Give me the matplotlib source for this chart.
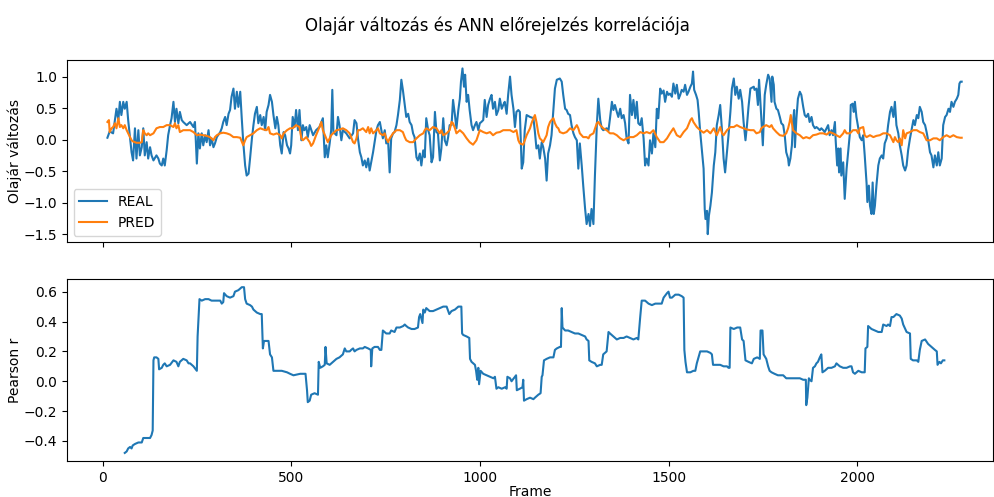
import numpy as np
import matplotlib
matplotlib.use("Agg")
import matplotlib.pyplot as plt
from matplotlib.ticker import MultipleLocator

# (frame, value) samples of the oil price change (REAL) and the ANN prediction (PRED)
real_pts = [
    (13, 0.03), (19, 0.13), (28, 0.10), (37, 0.49), (42, 0.31), (46, 0.60), (50, 0.39), (55, 0.60),
    (59, 0.49), (64, 0.60), (68, 0.31), (73, 0.02), (77, -0.20), (81, -0.33), (86, 0.18), (90, -0.30),
    (95, 0.15), (99, -0.25), (104, -0.12), (108, 0.18), (112, -0.25), (117, -0.04), (121, -0.30),
    (126, -0.12), (130, -0.25), (135, -0.33), (143, -0.25), (148, -0.30), (152, -0.38), (157, -0.41),
    (161, -0.30), (165, -0.41), (170, -0.17), (174, 0.07), (179, 0.23), (183, 0.34), (188, 0.60),
    (192, 0.28), (196, 0.49), (201, 0.26), (205, 0.44), (210, 0.31), (214, 0.28), (223, 0.23),
    (232, 0.28), (241, 0.20), (245, 0.28), (250, -0.38), (254, 0.10), (258, -0.14), (263, 0.10),
    (267, -0.09), (272, 0.07), (276, -0.04), (281, 0.15), (285, -0.09), (289, 0.02), (294, -0.12),
    (298, -0.06), (303, 0.04), (312, 0.12), (316, 0.18), (320, 0.28), (325, 0.36), (329, 0.23),
    (334, 0.41), (338, 0.47), (342, 0.68), (347, 0.81), (351, 0.49), (356, 0.76), (360, 0.52),
    (365, 0.76), (369, 0.34), (373, -0.04), (378, -0.41), (382, -0.57), (387, -0.54), (391, -0.30),
    (396, 0.02), (400, 0.23), (404, 0.41), (409, 0.52), (413, 0.26), (418, 0.39), (422, 0.23),
    (427, 0.36), (431, 0.15), (435, 0.44), (440, 0.55), (444, 0.71), (449, 0.60), (453, 0.39),
    (458, 0.18), (462, 0.36), (466, 0.23), (471, -0.09), (475, -0.22), (480, 0.12), (484, 0.07),
    (489, -0.09), (493, -0.14), (497, -0.22),
    (500, -0.09), (504, 0.36), (509, 0.20), (513, 0.47), (518, 0.15), (522, 0.47), (527, -0.01),
    (531, 0.23), (535, 0.15), (540, 0.20), (544, 0.04), (549, 0.23), (558, 0.07), (566, 0.15),
    (575, 0.20), (580, 0.28), (584, 0.34), (589, -0.28), (593, -0.09), (597, -0.28), (602, -0.06),
    (606, 0.15), (609, 0.79), (612, 0.12), (620, 0.07), (624, 0.36), (628, 0.23), (633, -0.01),
    (637, 0.15), (646, 0.10), (655, 0.02), (664, 0.10), (668, 0.31), (673, 0.26), (677, 0.02),
    (682, -0.20), (686, -0.28), (690, -0.41), (695, -0.33), (699, -0.44), (704, -0.30), (708, -0.49),
    (712, -0.36), (717, -0.20), (721, -0.04), (726, 0.15), (730, 0.23), (735, 0.28), (739, 0.15),
    (743, 0.02), (748, 0.15), (752, -0.06), (757, -0.04), (761, -0.52), (765, 0.02), (770, 0.10),
    (774, 0.12), (779, 0.23), (783, 0.39), (788, 0.63), (792, 0.95), (796, 0.79), (801, 0.55),
    (805, 0.36), (810, 0.41), (814, 0.28), (819, 0.23), (823, 0.10), (827, 0.04), (832, -0.28),
    (836, -0.33), (841, -0.22), (845, -0.41), (850, -0.17), (854, -0.28), (858, 0.34), (863, 0.15),
    (867, 0.07), (872, -0.36), (876, -0.28), (881, 0.44), (885, 0.12), (889, 0.10), (894, -0.33),
    (898, -0.14), (903, 0.34), (907, -0.01), (912, -0.09), (916, 0.04), (920, 0.23), (925, 0.23),
    (929, 0.63), (934, 0.39), (938, 0.18), (943, 0.47), (947, 0.65), (950, 0.92), (954, 1.13),
    (958, 0.84), (961, 1.03), (965, 0.60), (969, 0.71), (973, 0.47), (978, 0.23), (982, 0.15),
    (987, 0.23), (991, 0.28), (996, 0.15), (1000, 0.26), (1004, 0.28), (1009, 0.31), (1013, 0.63),
    (1018, 0.36), (1022, 0.55), (1027, 0.65), (1031, 0.71), (1035, 0.49), (1040, 0.60), (1044, 0.39),
    (1049, 0.47), (1053, 0.65), (1058, 0.49), (1062, 0.55), (1066, 0.60), (1071, 0.41), (1075, 0.71),
    (1080, 1.00), (1084, 0.71), (1089, 0.49), (1093, 0.20), (1097, 0.44), (1102, 0.47),
    (1106, 0.44), (1111, -0.46), (1115, -0.36), (1119, 0.15), (1124, 0.39), (1133, 0.36),
    (1142, 0.34), (1146, 0.12), (1150, -0.14), (1155, -0.09), (1159, -0.30), (1164, -0.04),
    (1168, -0.12), (1173, -0.30), (1177, -0.65), (1181, -0.22), (1186, -0.09), (1190, 0.07),
    (1195, 0.49), (1199, 0.81), (1204, 0.95), (1212, 0.97), (1217, 0.92), (1221, 0.71), (1226, 0.49),
    (1230, 0.47), (1234, 0.41), (1239, 0.39), (1243, 0.23), (1248, 0.10), (1252, 0.04), (1257, -0.01),
    (1261, -0.46), (1265, -0.06), (1270, -0.41), (1274, -0.73), (1279, -1.10), (1283, -1.34),
    (1288, -1.18), (1292, -1.37), (1296, -1.10), (1301, -1.34), (1305, -0.57), (1310, 0.23),
    (1314, 0.65), (1319, 0.31), (1323, 0.18), (1327, 0.15), (1336, 0.18), (1341, 0.15), (1345, 0.34),
    (1350, 0.60), (1354, 0.47), (1358, 0.55), (1363, 0.44), (1367, 0.36), (1372, 0.49), (1376, 0.34),
    (1381, 0.39), (1385, 0.26), (1389, 0.02), (1394, -0.06), (1398, 0.71), (1403, 0.39), (1407, 0.63),
    (1412, 0.34), (1416, 0.60), (1420, 0.26), (1425, 0.23), (1429, 0.34), (1434, 0.02), (1438, -0.41),
    (1442, -0.30), (1447, -0.41), (1451, -0.01), (1456, -0.22), (1460, 0.10), (1465, -0.12),
    (1469, 0.49), (1473, 0.34), (1478, 0.81), (1482, 0.73), (1487, 0.78), (1491, 0.60), (1496, 0.76),
    (1500, 0.71), (1504, 0.73), (1509, 0.68), (1513, 0.89), (1518, 0.73), (1522, 0.87), (1527, 0.65),
    (1531, 0.71), (1535, 0.79), (1540, 0.76), (1544, 0.87), (1549, 0.71), (1553, 0.76), (1558, 0.84),
    (1562, 0.89), (1565, 1.08), (1568, 0.79), (1573, 0.71), (1577, 0.63), (1580, 0.44), (1584, 0.12),
    (1588, -0.14), (1593, -0.46), (1596, -1.10), (1598, -1.26), (1602, -1.13), (1604, -1.50),
    (1607, -1.21), (1611, -1.05), (1615, -0.84), (1620, -0.41), (1624, -0.20), (1628, 0.23),
    (1633, 0.39), (1637, 0.55), (1642, 0.12), (1646, -0.30), (1650, -0.52), (1655, -0.20), (1659, 0.07),
    (1664, 0.44), (1668, 0.81), (1673, 0.97), (1677, 0.71), (1681, 0.84), (1686, 0.65), (1690, 0.79),
    (1695, 0.60), (1699, 0.28), (1704, -0.01), (1708, 0.23), (1712, 0.52), (1717, 0.81), (1726, 0.84),
    (1728, 0.79), (1733, 0.81), (1737, 0.55), (1740, 0.95), (1743, 0.65), (1746, 0.34), (1750, -0.09),
    (1755, 0.71), (1759, 0.87), (1764, 1.03), (1768, 0.97), (1773, 0.60), (1775, 1.00), (1779, 0.87),
    (1781, 0.60), (1786, 0.49), (1790, 0.47), (1795, 0.36), (1799, 0.26), (1804, 0.23), (1808, 0.07),
    (1812, -0.20), (1817, -0.30), (1819, -0.41), (1823, -0.30), (1827, -0.09), (1830, 0.28),
    (1833, 0.47), (1835, -0.12), (1839, 0.34), (1843, 0.65), (1848, 0.76), (1852, 0.71), (1857, 0.52),
    (1861, 0.39), (1865, 0.36), (1870, 0.41), (1874, 0.28), (1879, 0.36), (1883, 0.23), (1888, 0.18),
    (1892, 0.20), (1896, 0.18), (1901, 0.15), (1905, 0.18), (1910, 0.15), (1914, 0.12), (1919, 0.18),
    (1923, 0.23), (1927, 0.07), (1932, 0.15), (1936, 0.07), (1941, 0.28), (1943, -0.01), (1947, -0.41),
    (1950, -0.14), (1952, -0.52), (1956, -0.14), (1958, -0.57), (1963, -0.36), (1967, -0.94),
    (1972, -0.46), (1976, -0.20), (1981, 0.12), (1983, 0.55), (1988, 0.57), (1991, 0.44), (1994, 0.60),
    (1998, 0.36), (2003, 0.18), (2007, 0.04), (2012, -0.01), (2016, 0.07), (2020, -0.25), (2025, -0.70),
    (2027, -0.99), (2031, -0.73), (2034, -1.05), (2038, -1.18), (2041, -0.68), (2044, -1.18),
    (2047, -1.05), (2051, -0.73), (2056, -0.41), (2060, -0.30), (2065, -0.25), (2069, -0.30),
    (2073, -0.06), (2078, 0.02), (2082, 0.23), (2087, 0.44), (2091, 0.52), (2096, 0.36), (2100, 0.60),
    (2104, 0.23), (2109, 0.10), (2113, -0.09), (2118, -0.25), (2122, -0.41), (2127, -0.49),
    (2131, -0.41), (2135, -0.17), (2140, 0.02), (2144, 0.15), (2149, 0.31), (2153, 0.23), (2158, 0.39),
    (2162, 0.34), (2166, 0.52), (2171, 0.44), (2175, 0.28), (2180, 0.23), (2184, 0.12), (2189, -0.04),
    (2193, -0.20), (2197, -0.25), (2202, -0.44), (2206, -0.25), (2211, -0.41), (2215, -0.20),
    (2219, -0.41), (2224, -0.30), (2228, 0.23), (2233, 0.36), (2237, 0.39), (2242, 0.49), (2246, 0.44),
    (2250, 0.60), (2255, 0.52), (2259, 0.60), (2264, 0.65), (2268, 0.71), (2271, 0.89), (2274, 0.92),
    (2277, 0.92),
]

pred_pts = [
    (13, 0.28), (17, 0.31), (19, 0.12), (24, 0.18), (28, 0.20), (33, 0.26), (37, 0.18), (42, 0.34),
    (46, 0.20), (50, 0.23), (55, 0.18), (59, 0.23), (64, 0.15), (68, 0.10), (73, 0.04), (77, -0.01),
    (81, -0.03), (90, -0.05), (99, -0.05), (104, -0.04), (108, 0.15), (112, 0.10), (117, 0.07),
    (121, 0.10), (126, 0.07), (135, 0.10), (143, 0.18), (152, 0.20), (161, 0.20), (170, 0.23),
    (179, 0.23), (188, 0.20), (192, 0.26), (196, 0.18), (201, 0.23), (205, 0.12), (214, 0.15),
    (223, 0.15), (232, 0.15), (241, 0.12), (250, 0.07), (258, 0.08), (267, 0.07), (276, 0.06),
    (285, 0.04), (294, -0.01), (298, 0.04), (303, 0.07), (312, 0.10), (320, 0.11), (329, 0.10),
    (338, 0.08), (347, 0.04), (356, 0.04), (365, 0.03), (373, -0.09), (378, -0.01), (382, 0.04),
    (391, 0.07), (400, 0.10), (409, 0.15), (418, 0.18), (427, 0.16), (435, 0.15), (440, 0.20),
    (444, 0.10), (453, 0.08), (462, 0.10), (471, 0.07), (475, 0.02), (480, 0.10), (489, 0.15),
    (497, 0.18), (504, 0.18), (513, 0.23), (522, 0.20), (527, 0.02), (531, -0.01), (540, 0.04),
    (549, -0.04), (553, -0.10), (558, -0.06), (566, 0.07), (575, 0.20), (580, 0.28), (584, 0.15),
    (593, 0.02), (597, -0.04), (602, 0.02), (606, 0.07), (611, 0.10), (620, 0.15), (628, 0.16),
    (637, 0.18), (646, 0.15), (655, 0.10), (664, -0.04), (668, -0.06), (673, 0.02), (677, 0.15),
    (682, 0.15), (690, 0.18), (699, 0.12), (704, 0.20), (708, 0.10), (712, 0.18), (717, 0.10),
    (726, 0.15), (730, 0.18), (735, 0.10), (743, 0.07), (748, 0.10), (752, 0.02), (757, -0.04),
    (761, 0.02), (770, 0.10), (779, 0.15), (788, 0.15), (796, 0.12), (801, 0.04), (805, -0.01),
    (814, -0.04), (823, -0.04), (832, 0.02), (841, 0.07), (850, 0.10), (854, 0.15), (858, 0.18),
    (867, 0.15), (876, 0.20), (885, 0.18), (894, 0.10), (898, 0.15), (903, 0.07), (912, 0.10),
    (920, 0.15), (925, 0.28), (929, 0.26), (934, 0.18), (938, 0.10), (947, 0.15), (956, 0.10),
    (965, 0.02), (973, -0.04), (982, -0.08), (991, -0.01), (1000, 0.15), (1009, 0.12), (1018, 0.10),
    (1027, 0.12), (1035, 0.07), (1044, 0.11), (1053, 0.12), (1062, 0.15), (1071, 0.15), (1080, 0.15),
    (1089, 0.12), (1097, 0.15), (1102, -0.01), (1106, -0.06), (1115, -0.08), (1124, 0.07),
    (1133, 0.18), (1137, 0.26), (1142, 0.34), (1146, 0.39), (1150, 0.28), (1155, 0.10), (1159, 0.02),
    (1164, -0.01), (1168, -0.04), (1177, 0.07), (1181, 0.20), (1186, 0.28), (1190, 0.31), (1195, 0.34),
    (1199, 0.26), (1204, 0.20), (1208, 0.18), (1212, 0.12), (1221, 0.10), (1230, 0.12), (1239, 0.18),
    (1248, 0.15), (1257, 0.23), (1261, 0.18), (1265, 0.10), (1274, 0.04), (1283, 0.04), (1288, 0.02),
    (1292, 0.07), (1301, 0.10), (1310, 0.26), (1314, 0.28), (1319, 0.23), (1327, 0.18), (1336, 0.15),
    (1345, 0.10), (1354, 0.10), (1363, 0.07), (1372, 0.02), (1381, -0.01), (1389, 0.02), (1398, 0.04),
    (1407, 0.04), (1416, 0.07), (1425, 0.12), (1434, 0.10), (1442, 0.12), (1451, 0.10), (1460, 0.15),
    (1469, 0.04), (1478, -0.04), (1487, -0.04), (1496, 0.02), (1504, 0.10), (1513, 0.18), (1522, 0.07),
    (1531, 0.04), (1540, 0.12), (1549, 0.18), (1558, 0.31), (1562, 0.34), (1566, 0.28), (1575, 0.20),
    (1584, 0.15), (1593, 0.11), (1602, 0.15), (1611, 0.10), (1620, 0.18), (1628, 0.07), (1637, 0.20),
    (1642, 0.10), (1646, 0.07), (1655, 0.15), (1664, 0.20), (1673, 0.20), (1681, 0.23), (1690, 0.20),
    (1699, 0.18), (1708, 0.16), (1717, 0.15), (1726, 0.15), (1733, 0.10), (1742, 0.12), (1746, 0.18),
    (1750, 0.20), (1759, 0.23), (1768, 0.20), (1773, 0.23), (1777, 0.18), (1786, 0.12), (1795, 0.07),
    (1804, 0.06), (1812, 0.10), (1817, 0.18), (1821, 0.28), (1824, 0.39), (1827, 0.26), (1830, 0.15),
    (1839, 0.10), (1848, 0.07), (1857, 0.02), (1865, 0.04), (1874, 0.02), (1883, 0.07), (1892, 0.08),
    (1901, 0.10), (1910, 0.10), (1919, 0.08), (1927, 0.12), (1936, 0.10), (1945, 0.07), (1954, 0.04),
    (1963, 0.10), (1967, 0.15), (1972, 0.10), (1981, 0.10), (1989, 0.15), (1998, 0.15), (2003, 0.10),
    (2007, 0.18), (2016, 0.20), (2020, 0.07), (2025, 0.04), (2034, 0.07), (2043, 0.04), (2051, 0.06),
    (2060, 0.07), (2069, 0.10), (2078, 0.10), (2087, 0.07), (2091, 0.02), (2096, -0.04), (2100, 0.04),
    (2104, -0.01), (2109, -0.04), (2113, 0.02), (2118, -0.09), (2122, 0.15), (2127, 0.02), (2131, 0.10),
    (2140, 0.12), (2149, 0.15), (2158, 0.15), (2166, 0.12), (2175, 0.10), (2184, -0.01), (2193, -0.01),
    (2202, 0.02), (2211, 0.02), (2219, -0.01), (2228, 0.04), (2237, 0.07), (2246, 0.04), (2255, 0.07),
    (2264, 0.04), (2273, 0.03), (2277, 0.03),
]

# rolling Pearson correlation between REAL and PRED
pearson_pts = [
    (59, -0.48), (64, -0.47), (68, -0.45), (73, -0.44), (77, -0.45), (80, -0.43), (86, -0.42),
    (95, -0.41), (104, -0.41), (108, -0.38), (117, -0.38), (126, -0.38), (130, -0.36), (133, -0.33),
    (135, 0.14), (137, 0.16), (143, 0.16), (148, 0.15), (150, 0.08), (157, 0.09), (161, 0.11),
    (165, 0.12), (170, 0.10), (179, 0.11), (188, 0.14), (196, 0.13), (201, 0.10), (205, 0.13),
    (214, 0.15), (223, 0.14), (228, 0.12), (232, 0.12), (241, 0.10), (250, 0.07), (252, 0.30),
    (257, 0.55), (263, 0.54), (272, 0.55), (281, 0.55), (289, 0.54), (298, 0.54), (312, 0.54),
    (316, 0.52), (320, 0.53), (322, 0.59), (329, 0.57), (338, 0.56), (347, 0.57), (351, 0.60),
    (360, 0.61), (369, 0.63), (375, 0.63), (378, 0.55), (382, 0.52), (391, 0.51), (396, 0.50),
    (400, 0.48), (409, 0.46), (418, 0.45), (422, 0.45), (425, 0.22), (428, 0.27), (440, 0.27),
    (444, 0.18), (449, 0.16), (453, 0.07), (462, 0.07), (475, 0.07), (489, 0.06), (497, 0.05),
    (506, 0.04), (524, 0.05), (531, 0.05), (538, 0.05), (542, -0.06), (544, -0.14), (549, -0.13),
    (553, -0.09), (562, -0.08), (571, -0.09), (573, 0.13), (577, 0.09), (584, 0.10), (589, 0.11),
    (591, 0.23), (594, 0.12), (602, 0.11), (611, 0.13), (620, 0.15), (628, 0.16), (637, 0.18),
    (642, 0.22), (646, 0.20), (655, 0.20), (659, 0.21), (664, 0.22), (668, 0.20), (673, 0.21),
    (682, 0.22), (690, 0.22), (695, 0.23), (704, 0.22), (711, 0.21), (712, 0.10), (715, 0.22),
    (721, 0.23), (730, 0.23), (735, 0.21), (739, 0.21), (743, 0.34), (752, 0.32), (761, 0.32),
    (765, 0.34), (774, 0.33), (779, 0.36), (788, 0.36), (797, 0.37), (801, 0.38), (805, 0.37),
    (810, 0.36), (819, 0.35), (827, 0.35), (836, 0.36), (839, 0.43), (842, 0.45), (848, 0.39),
    (850, 0.48), (854, 0.46), (858, 0.49), (867, 0.47), (876, 0.47), (885, 0.48), (894, 0.49),
    (903, 0.50), (912, 0.50), (919, 0.45), (925, 0.47), (934, 0.48), (943, 0.50), (951, 0.50),
    (953, 0.32), (956, 0.31), (965, 0.30), (972, 0.29), (974, 0.15), (978, 0.13), (987, 0.11),
    (990, 0.07), (993, 0.01), (996, 0.09), (998, -0.02), (1002, 0.07), (1009, 0.05), (1018, 0.04),
    (1027, 0.03), (1036, 0.02), (1040, 0.03), (1044, -0.05), (1049, -0.04), (1058, -0.05),
    (1067, -0.04), (1071, -0.05), (1073, 0.03), (1080, 0.02), (1084, 0.00), (1093, 0.03), (1096, 0.04),
    (1098, -0.06), (1106, -0.05), (1113, -0.04), (1115, 0.01), (1117, -0.13), (1124, -0.12),
    (1133, -0.11), (1142, -0.12), (1146, -0.11), (1155, -0.09), (1161, -0.08), (1164, 0.03),
    (1166, 0.04), (1170, 0.14), (1177, 0.15), (1186, 0.16), (1195, 0.16), (1199, 0.21), (1204, 0.22),
    (1212, 0.23), (1215, 0.23), (1217, 0.49), (1219, 0.36), (1226, 0.34), (1234, 0.34), (1243, 0.33),
    (1252, 0.32), (1261, 0.32), (1270, 0.31), (1279, 0.30), (1283, 0.28), (1288, 0.27), (1290, 0.14),
    (1296, 0.13), (1305, 0.12), (1310, 0.10), (1319, 0.11), (1323, 0.11), (1327, 0.18), (1336, 0.20),
    (1341, 0.33), (1345, 0.32), (1354, 0.30), (1363, 0.28), (1372, 0.29), (1381, 0.29), (1389, 0.30),
    (1398, 0.29), (1407, 0.28), (1416, 0.29), (1420, 0.28), (1425, 0.43), (1429, 0.54), (1438, 0.54),
    (1447, 0.52), (1456, 0.51), (1465, 0.52), (1473, 0.52), (1482, 0.52), (1487, 0.56), (1496, 0.59),
    (1500, 0.60), (1504, 0.56), (1509, 0.56), (1518, 0.58), (1527, 0.58), (1535, 0.57), (1540, 0.56),
    (1542, 0.21), (1545, 0.13), (1549, 0.06), (1558, 0.06), (1566, 0.07), (1571, 0.07), (1575, 0.12),
    (1584, 0.20), (1593, 0.20), (1602, 0.20), (1611, 0.19), (1615, 0.18), (1618, 0.11), (1629, 0.11),
    (1637, 0.11), (1646, 0.10), (1655, 0.10), (1659, 0.09), (1662, 0.09), (1664, 0.36), (1673, 0.35),
    (1682, 0.36), (1690, 0.36), (1695, 0.28), (1699, 0.27), (1704, 0.14), (1712, 0.13), (1721, 0.12),
    (1726, 0.15), (1735, 0.16), (1742, 0.15), (1744, 0.34), (1749, 0.34), (1752, 0.18), (1759, 0.15),
    (1764, 0.10), (1768, 0.07), (1773, 0.06), (1781, 0.05), (1790, 0.04), (1799, 0.04), (1804, 0.04),
    (1812, 0.02), (1821, 0.02), (1830, 0.02), (1839, 0.02), (1848, 0.02), (1857, 0.01), (1861, 0.01),
    (1864, 0.01), (1865, -0.16), (1868, -0.11), (1872, 0.02), (1874, 0.01), (1879, 0.00), (1883, 0.09),
    (1888, 0.10), (1892, 0.12), (1896, 0.13), (1901, 0.16), (1905, 0.18), (1908, 0.06), (1914, 0.07),
    (1923, 0.09), (1932, 0.09), (1941, 0.10), (1945, 0.12), (1954, 0.10), (1963, 0.09), (1972, 0.09),
    (1981, 0.10), (1985, 0.10), (1989, 0.06), (1994, 0.05), (2003, 0.07), (2012, 0.06), (2020, 0.06),
    (2022, 0.22), (2027, 0.23), (2029, 0.37), (2038, 0.35), (2047, 0.34), (2056, 0.33), (2065, 0.33),
    (2069, 0.38), (2078, 0.37), (2082, 0.38), (2087, 0.37), (2091, 0.43), (2096, 0.43), (2104, 0.45),
    (2113, 0.44), (2118, 0.42), (2122, 0.38), (2131, 0.33), (2140, 0.32), (2142, 0.15), (2148, 0.14),
    (2158, 0.14), (2162, 0.13), (2166, 0.21), (2171, 0.27), (2180, 0.28), (2188, 0.25), (2197, 0.23),
    (2206, 0.21), (2211, 0.20), (2213, 0.11), (2218, 0.13), (2222, 0.12), (2227, 0.14), (2231, 0.14),
]

real_x, real_y = np.array(real_pts).T
pred_x, pred_y = np.array(pred_pts).T
corr_x, corr_y = np.array(pearson_pts).T

fig, (ax1, ax2) = plt.subplots(2, 1, sharex=True, figsize=(9.95, 4.97), dpi=100)
fig.subplots_adjust(left=0.067, right=0.998, top=0.879, bottom=0.072, hspace=0.2)
fig.suptitle("Olajár változás és ANN előrejelzés korrelációja", y=0.966)

ax1.plot(real_x, real_y, label="REAL")
ax1.plot(pred_x, pred_y, label="PRED")
ax1.set_ylabel("Olajár változás", labelpad=1)
ax1.legend(loc="lower left")
ax1.set_xlim(-95, 2360)

ax2.plot(corr_x, corr_y)
ax2.set_ylabel("Pearson r", labelpad=1)
ax2.set_xlabel("Frame", labelpad=0)
ax2.yaxis.set_major_locator(MultipleLocator(0.2))

fig.savefig("out.png")
